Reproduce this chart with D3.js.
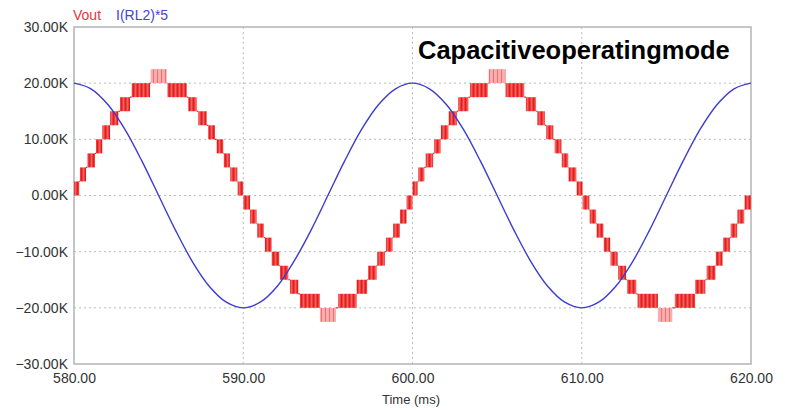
<!DOCTYPE html>
<html>
<head>
<meta charset="utf-8">
<script src="https://cdn.jsdelivr.net/npm/d3@7"></script>
<style>
  body { margin: 0; background: #fff; }
  svg text { font-family: "Liberation Sans", Arial, sans-serif; }
</style>
</head>
<body>
<svg id="chart" width="785" height="410"></svg>
<script>
// Tick values
var xTicks = [580, 590, 600, 610, 620];
var yTicks = [-30, -20, -10, 0, 10, 20, 30];

// I(RL2)*5 read every 1 ms (in K)
var blueTimes = [580, 581, 582, 583, 584, 585, 586, 587, 588, 589, 590,
    591, 592, 593, 594, 595, 596, 597, 598, 599, 600,
    601, 602, 603, 604, 605, 606, 607, 608, 609, 610,
    611, 612, 613, 614, 615, 616, 617, 618, 619, 620];
var blueVals = [20.0, 19.0, 16.2, 11.8, 6.2, 0.0, -6.2, -11.8, -16.2, -19.0, -20.0,
    -19.0, -16.2, -11.7, -6.2, 0.0, 6.2, 11.8, 16.2, 19.0, 20.0,
    19.0, 16.2, 11.8, 6.2, 0.0, -6.2, -11.8, -16.2, -19.0, -20.0,
    -19.0, -16.2, -11.8, -6.2, 0.0, 6.2, 11.8, 16.2, 19.0, 20.0];

// Vout switching bands: start / end time (ms) and lower level (K) of each step
var stepSize = 2.5;
var bandStart = [
    580.00, 580.35, 580.79, 581.30, 581.67, 582.13, 582.72, 583.41, 584.53,
    585.52, 586.75, 587.34, 587.93, 588.43, 588.85, 589.23, 589.67,
    590.00, 590.40, 590.83, 591.28, 591.68, 592.17, 592.76, 593.35, 594.53,
    595.61, 596.70, 597.38, 597.92, 598.43, 598.86, 599.26, 599.65,
    600.00, 600.34, 600.78, 601.28, 601.68, 602.14, 602.70, 603.40, 604.50,
    605.50, 606.70, 607.38, 607.90, 608.40, 608.82, 609.22, 609.70,
    610.05, 610.47, 610.88, 611.30, 611.70, 612.15, 612.68, 613.30, 614.50,
    615.50, 616.70, 617.38, 617.92, 618.35, 618.80, 619.20, 619.62];
var bandEnd = [
    580.31, 580.71, 581.24, 581.67, 582.13, 582.62, 583.31, 584.49, 585.48,
    586.66, 587.25, 587.84, 588.33, 588.82, 589.21, 589.65, 590.00,
    590.40, 590.79, 591.22, 591.68, 592.13, 592.66, 593.25, 594.53, 595.48,
    596.70, 597.32, 597.88, 598.37, 598.82, 599.26, 599.65, 600.00,
    600.30, 600.70, 601.22, 601.66, 602.12, 602.62, 603.30, 604.45, 605.50,
    606.60, 607.30, 607.82, 608.32, 608.80, 609.20, 609.68, 610.05,
    610.45, 610.85, 611.28, 611.68, 612.12, 612.62, 613.22, 614.50, 615.35,
    616.70, 617.30, 617.90, 618.32, 618.75, 619.18, 619.60, 620.00];
var bandLow = [
    0, 2.5, 5, 7.5, 10, 12.5, 15, 17.5, 20,
    17.5, 15, 12.5, 10, 7.5, 5, 2.5, 0,
    -2.5, -5, -7.5, -10, -12.5, -15, -17.5, -20, -22.5,
    -20, -17.5, -15, -12.5, -10, -7.5, -5, -2.5,
    0, 2.5, 5, 7.5, 10, 12.5, 15, 17.5, 20,
    17.5, 15, 12.5, 10, 7.5, 5, 2.5, 0,
    -2.5, -5, -7.5, -10, -12.5, -15, -17.5, -20, -22.5,
    -20, -17.5, -15, -12.5, -10, -7.5, -5, -2.5];

var svg = d3.select("#chart");

var xScale = d3.scaleLinear().domain([580, 620]).range([74, 751]);
var yScale = d3.scaleLinear().domain([-30, 30]).range([364, 27]);

// stripe patterns for the switching bands
var defs = svg.append("defs");
var pwm = defs.append("pattern").attr("id", "pwm")
    .attr("patternUnits", "userSpaceOnUse").attr("width", 4).attr("height", 8);
pwm.append("rect").attr("width", 4).attr("height", 8).attr("fill", "#f23c3c");
pwm.append("rect").attr("x", 1).attr("width", 1).attr("height", 8).attr("fill", "#dc2020");
pwm.append("rect").attr("x", 3).attr("width", 0.7).attr("height", 8).attr("fill", "#f77070");
var pwmLight = defs.append("pattern").attr("id", "pwmLight")
    .attr("patternUnits", "userSpaceOnUse").attr("width", 4).attr("height", 8);
pwmLight.append("rect").attr("width", 4).attr("height", 8).attr("fill", "#f7aeae");
pwmLight.append("rect").attr("x", 1).attr("width", 1).attr("height", 8).attr("fill", "#f07070");

// gridlines
svg.append("g").selectAll("line")
    .data(yTicks.filter(function(d) { return d > -30 && d < 30; }))
    .enter().append("line")
    .attr("x1", xScale(580)).attr("x2", xScale(620))
    .attr("y1", function(d) { return yScale(d); })
    .attr("y2", function(d) { return yScale(d); })
    .attr("stroke", "#bdbdbd").attr("stroke-dasharray", "2,3");
svg.append("g").selectAll("line")
    .data(xTicks.filter(function(d) { return d > 580 && d < 620; }))
    .enter().append("line")
    .attr("y1", yScale(30)).attr("y2", yScale(-30))
    .attr("x1", function(d) { return xScale(d); })
    .attr("x2", function(d) { return xScale(d); })
    .attr("stroke", "#bdbdbd").attr("stroke-dasharray", "2,3");

// frame
svg.append("rect")
    .attr("x", xScale(580)).attr("y", yScale(30))
    .attr("width", xScale(620) - xScale(580))
    .attr("height", yScale(-30) - yScale(30))
    .attr("fill", "none").attr("stroke", "#b4b4b4").attr("stroke-width", 1.5);

// Vout: flat segments between bands
var bands = bandStart.map(function(s, i) {
    return { t0: s, t1: bandEnd[i], lo: bandLow[i], hi: bandLow[i] + stepSize };
});
var flats = [];
for (var i = 0; i < bands.length - 1; i++) {
    var shared = bands[i + 1].lo > bands[i].lo ? bands[i + 1].lo : bands[i].lo;
    flats.push({ t0: bands[i].t1, t1: bands[i + 1].t0, v: shared });
}
svg.append("g").selectAll("line")
    .data(flats).enter().append("line")
    .attr("x1", function(d) { return xScale(d.t0); })
    .attr("x2", function(d) { return xScale(d.t1); })
    .attr("y1", function(d) { return yScale(d.v); })
    .attr("y2", function(d) { return yScale(d.v); })
    .attr("stroke", "#e82020").attr("stroke-width", 1.2);

svg.append("g").selectAll("rect")
    .data(bands).enter().append("rect")
    .attr("x", function(d) { return xScale(d.t0); })
    .attr("width", function(d) { return Math.max(1, xScale(d.t1) - xScale(d.t0)); })
    .attr("y", function(d) { return yScale(d.hi); })
    .attr("height", function(d) { return yScale(d.lo) - yScale(d.hi); })
    .attr("fill", function(d) {
        return (d.lo === 20 || d.lo === -22.5) ? "url(#pwmLight)" : "url(#pwm)";
    });

// I(RL2)*5
var line = d3.line()
    .x(function(d, i) { return xScale(blueTimes[i]); })
    .y(function(d) { return yScale(d); })
    .curve(d3.curveCatmullRom);
svg.append("path")
    .datum(blueVals)
    .attr("d", line)
    .attr("fill", "none")
    .attr("stroke", "#3c3cd0")
    .attr("stroke-width", 1.4);

// axes
var yAxis = d3.axisLeft(yScale).tickValues(yTicks).tickSize(0).tickPadding(6)
    .tickFormat(function(d) { return d3.format(".2f")(d) + "K"; });
var gy = svg.append("g").attr("transform", "translate(" + xScale(580) + ",0)").call(yAxis);
gy.select(".domain").remove();
gy.selectAll("text").style("font-size", "14px").attr("fill", "#333")
    .style("font-family", "'Liberation Sans', Arial, sans-serif");

var xAxis = d3.axisBottom(xScale).tickValues(xTicks).tickSize(0).tickPadding(9)
    .tickFormat(d3.format(".2f"));
var gx = svg.append("g").attr("transform", "translate(0," + yScale(-30) + ")").call(xAxis);
gx.select(".domain").remove();
gx.selectAll("text").style("font-size", "14px").attr("fill", "#333")
    .style("font-family", "'Liberation Sans', Arial, sans-serif");

svg.append("text")
    .attr("x", 411).attr("y", 404)
    .attr("text-anchor", "middle")
    .style("font-size", "13px").attr("fill", "#333")
    .text("Time (ms)");

// legend
svg.append("text").attr("x", 73).attr("y", 20)
    .style("font-size", "14px").attr("fill", "#e8353a").text("Vout");
svg.append("text").attr("x", 116).attr("y", 20)
    .style("font-size", "14px").attr("fill", "#4545d0").text("I(RL2)*5");

// annotation
svg.append("text").attr("x", 418).attr("y", 59)
    .style("font-size", "25.5px").style("font-weight", "bold").attr("fill", "#000")
    .text("Capacitiveoperatingmode");
</script>
</body>
</html>
